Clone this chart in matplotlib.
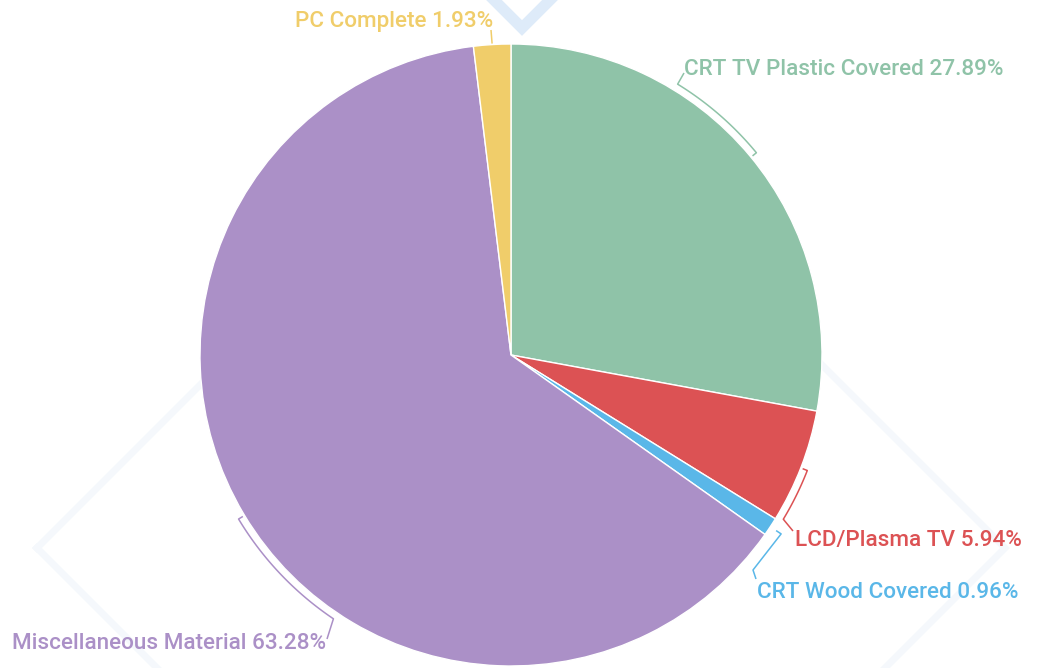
import matplotlib
matplotlib.use("Agg")
import matplotlib.pyplot as plt
import numpy as np

labels = ["CRT TV Plastic Covered", "LCD/Plasma TV", "CRT Wood Covered",
          "Miscellaneous Material", "PC Complete"]
values = [27.89, 5.94, 0.96, 63.28, 1.93]
colors = ["#8fc3a8", "#dc5254", "#5ab7e8", "#ab90c7", "#f0cd6a"]

W, H = 1039, 668
cx, cy, R = 511, 355, 311   # pie centre / radius in screen pixels
RB = 318                    # radius of the bracket leaders

plt.rcParams['font.family'] = ['Roboto', 'DejaVu Sans']

fig = plt.figure(figsize=(W / 100, H / 100), dpi=100)
ax = fig.add_axes([0, 0, 1, 1])

def scr(x, y):
    return x, H - y

def pt(a, r):
    # a = degrees clockwise from 12 o'clock
    t = np.radians(a)
    return cx + r * np.sin(t), (H - cy) + r * np.cos(t)

# faint watermark behind the pie
wm = [scr(37, 548), scr(521, 64), scr(1005, 548), scr(521, 1032), scr(37, 548)]
ax.plot(*zip(*wm), color="#f5f8fc", lw=5, zorder=0, solid_joinstyle='miter')
vv = [scr(494, 0), scr(522, 28), scr(550, 0)]
ax.plot(*zip(*vv), color="#deebf9", lw=8, zorder=0, solid_joinstyle='miter')

ax.pie(values, colors=colors, startangle=90, counterclock=False,
       radius=R, center=(cx, H - cy),
       wedgeprops=dict(edgecolor="white", linewidth=1))

edges = np.concatenate([[0], np.cumsum(values)]) / sum(values) * 360
mids = (edges[:-1] + edges[1:]) / 2

# leader layout: (tick angle offset, connector angle offset) from mid, end points, text
arcs = [(0.3, -18.6), (0.2, 10.0), None, (-0.2, -25.2), None]
conn = [[(684, 73)], [(793, 531)], [(753, 570), (756, 579)],
        [(327, 639)], [(491, 30)]]
text_pos = [(684, 75, 'left'), (795, 546, 'left'), (757, 598, 'left'),
            (326, 649, 'right'), (493, 27, 'right')]

for i, lab in enumerate(labels):
    c = colors[i]
    m = mids[i]
    if arcs[i] is not None:
        a0, a1 = m + arcs[i][0], m + arcs[i][1]
        aa = np.linspace(a0, a1, 60)
        xs, ys = pt(aa, RB)
        tx, ty = pt(a0, RB - 5)
        xs = np.concatenate([[tx], xs])
        ys = np.concatenate([[ty], ys])
        path = list(zip(xs, ys))
    elif i == 2:
        path = [pt(m, RB), pt(m, RB + 6)]
    else:
        path = [pt(m, R + 1)]
    path += [scr(x, y) for x, y in conn[i]]
    ax.plot(*zip(*path), color=c, lw=1.1, zorder=3, solid_capstyle='butt')
    x, y, ha = text_pos[i]
    ax.text(*scr(x, y), f"{lab} {values[i]:.2f}%", color=c, fontsize=16.2,
            fontweight='medium', ha=ha, va='baseline', zorder=4)

ax.set_xlim(0, W)
ax.set_ylim(0, H)
ax.set_aspect('equal')
ax.axis('off')

fig.savefig("out.png", dpi=100, facecolor="white")
